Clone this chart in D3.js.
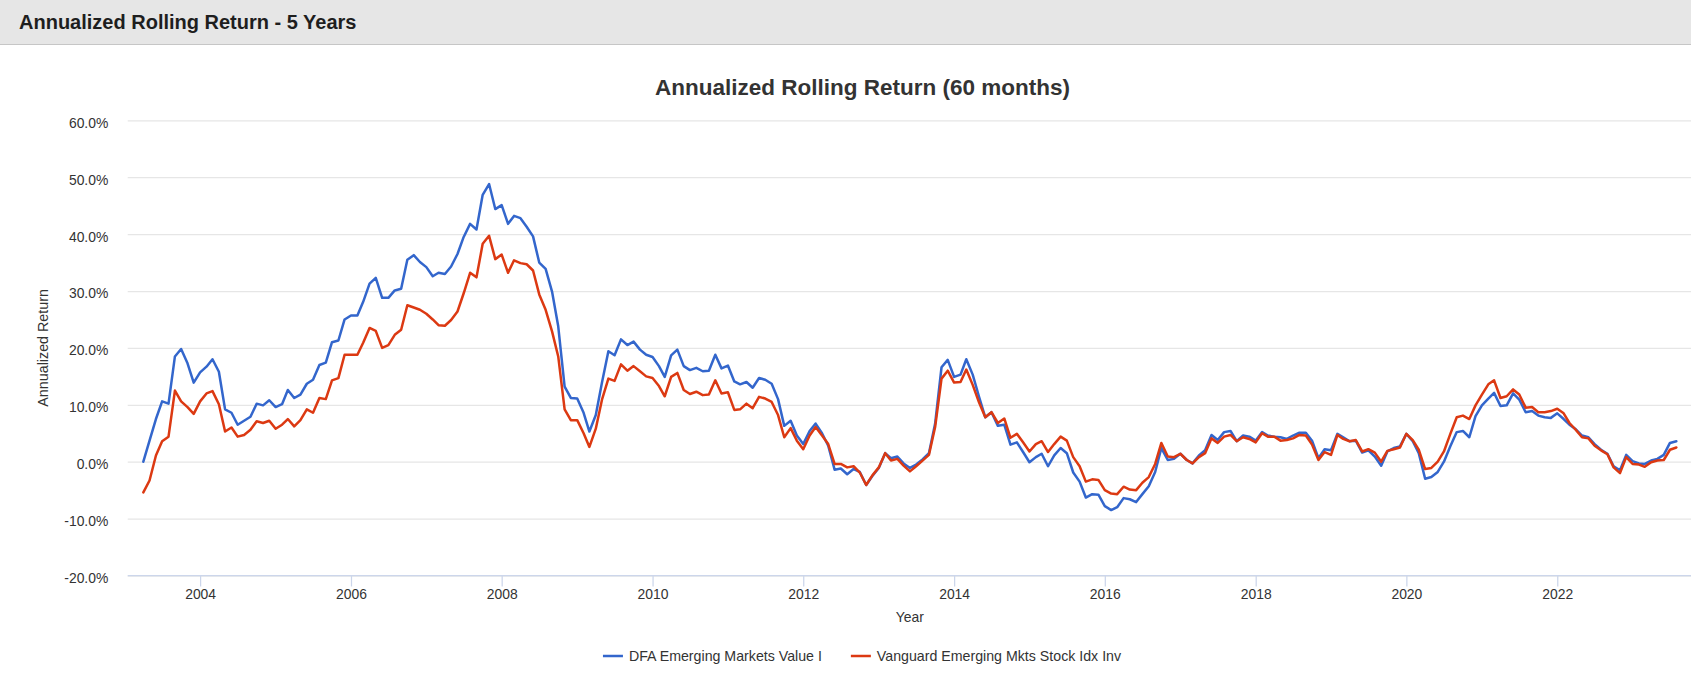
<!DOCTYPE html>
<html>
<head>
<meta charset="utf-8">
<script src="https://cdn.jsdelivr.net/npm/d3@7"></script>
<style>
  body { margin: 0; background: #fff; overflow: hidden; }
  text { font-family: "Liberation Sans", Arial, Helvetica, sans-serif; }
</style>
</head>
<body>
<svg id="chart" width="1691" height="673"></svg>
<script>
// Monthly 60-month annualized rolling returns (%), first point Apr 2003
const seriesNames = ['DFA Emerging Markets Value I', 'Vanguard Emerging Mkts Stock Idx Inv'];
const firstYear = 2003, firstMonth = 3;

const dfaValues = [
  0.0, 3.7, 7.5, 10.6, 10.2, 18.5, 19.8, 17.3, 13.9, 15.7, 16.7, 18.0,
  15.8, 9.2, 8.6, 6.5, 7.2, 7.9, 10.2, 9.9, 10.8, 9.6, 10.1, 12.6,
  11.2, 11.8, 13.7, 14.4, 17.0, 17.4, 21.0, 21.3, 25.0, 25.7, 25.7, 28.1,
  31.3, 32.3, 28.8, 28.8, 30.1, 30.4, 35.5, 36.3, 35.1, 34.2, 32.6, 33.2,
  33.0, 34.3, 36.5, 39.5, 41.8, 40.8, 46.9, 48.8, 44.4, 45.1, 41.8, 43.2,
  42.8, 41.3, 39.6, 35.0, 33.9, 29.9, 23.8, 13.2, 11.2, 11.1, 8.6, 5.3,
  8.2, 13.9, 19.4, 18.7, 21.5, 20.5, 21.1, 19.7, 18.8, 18.4, 16.8, 14.9,
  18.7, 19.7, 16.8, 16.1, 16.5, 15.9, 16.0, 18.8, 16.4, 16.9, 14.1, 13.6,
  14.0, 13.0, 14.7, 14.4, 13.7, 11.0, 6.3, 7.2, 4.6, 3.1, 5.4, 6.7,
  5.0, 2.8, -1.4, -1.2, -2.2, -1.3, -1.8, -4.1, -2.5, -1.1, 1.5, 0.6,
  0.9, -0.3, -1.1, -0.5, 0.4, 1.5, 6.7, 16.6, 17.9, 14.9, 15.3, 18.0,
  15.3, 11.5, 7.8, 8.7, 6.3, 6.5, 3.0, 3.4, 1.7, -0.1, 0.8, 1.4,
  -0.8, 1.1, 2.4, 1.5, -1.9, -3.5, -6.3, -5.7, -5.8, -7.8, -8.5, -8.0,
  -6.4, -6.6, -7.1, -5.7, -4.3, -1.8, 2.4, 0.3, 0.5, 1.4, 0.3, -0.3,
  1.1, 2.0, 4.7, 3.8, 5.2, 5.4, 3.6, 4.6, 4.4, 3.7, 5.2, 4.6,
  4.4, 4.3, 4.0, 4.6, 5.1, 5.1, 3.7, 0.6, 2.2, 2.0, 4.9, 4.3,
  3.6, 3.7, 1.6, 2.0, 0.9, -0.7, 1.8, 2.4, 2.7, 4.9, 3.6, 1.5,
  -3.0, -2.7, -1.8, 0.0, 2.7, 5.2, 5.4, 4.3, 8.0, 9.9, 11.1, 12.1,
  9.8, 9.9, 12.0, 10.9, 8.7, 8.9, 8.1, 7.8, 7.7, 8.5, 7.5, 6.5,
  5.7, 4.6, 4.3, 3.1, 2.1, 1.4, -0.8, -1.5, 1.2, 0.1, -0.3, -0.4,
  0.2, 0.5, 1.2, 3.3, 3.6
];

const vanguardValues = [
  -5.4, -3.3, 1.1, 3.6, 4.4, 12.5, 10.6, 9.6, 8.4, 10.6, 12.0, 12.4,
  10.1, 5.3, 6.0, 4.4, 4.7, 5.6, 7.1, 6.8, 7.2, 5.8, 6.5, 7.5,
  6.2, 7.3, 9.2, 8.6, 11.2, 11.0, 14.3, 14.7, 18.8, 18.8, 18.8, 20.9,
  23.5, 23.0, 20.0, 20.5, 22.3, 23.2, 27.5, 27.1, 26.7, 26.0, 25.0, 24.0,
  23.9, 24.9, 26.4, 29.6, 33.2, 32.4, 38.3, 39.7, 35.6, 36.4, 33.2, 35.4,
  34.9, 34.7, 33.6, 29.4, 26.7, 22.9, 18.5, 9.2, 7.3, 7.3, 5.0, 2.6,
  5.8, 10.9, 14.6, 14.2, 17.1, 16.0, 16.8, 15.9, 15.0, 14.7, 13.3, 11.5,
  14.9, 15.6, 12.6, 11.9, 12.3, 11.7, 11.8, 14.3, 12.0, 12.2, 9.1, 9.2,
  10.2, 9.4, 11.4, 11.1, 10.5, 8.2, 4.3, 5.9, 3.7, 2.2, 4.6, 6.1,
  4.6, 3.1, -0.4, -0.4, -1.0, -0.8, -1.9, -4.1, -2.4, -1.0, 1.5, 0.2,
  0.5, -0.7, -1.7, -0.8, 0.2, 1.2, 6.1, 14.6, 16.0, 13.9, 14.0, 16.2,
  13.5, 10.5, 7.8, 8.7, 6.8, 7.6, 4.2, 4.9, 3.4, 1.8, 3.1, 3.6,
  1.7, 3.1, 4.4, 3.7, 0.8, -0.8, -3.5, -3.1, -3.2, -5.0, -5.6, -5.7,
  -4.4, -4.9, -5.0, -3.7, -2.7, -0.4, 3.3, 0.9, 0.8, 1.4, 0.3, -0.3,
  0.8, 1.5, 4.1, 3.3, 4.4, 4.7, 3.6, 4.3, 4.0, 3.4, 5.0, 4.4,
  4.4, 3.7, 3.8, 4.1, 4.7, 4.6, 3.0, 0.3, 1.7, 1.2, 4.7, 4.0,
  3.6, 3.8, 1.8, 2.2, 1.6, 0.0, 1.9, 2.2, 2.5, 4.9, 3.8, 2.1,
  -1.3, -1.1, 0.0, 1.8, 4.9, 7.8, 8.1, 7.5, 9.9, 11.8, 13.6, 14.3,
  11.2, 11.5, 12.7, 11.8, 9.5, 9.6, 8.7, 8.7, 8.9, 9.3, 8.5, 6.8,
  5.6, 4.3, 4.1, 2.8, 2.0, 1.3, -1.0, -2.0, 0.8, -0.4, -0.5, -0.9,
  -0.1, 0.2, 0.3, 2.1, 2.5
];

const yTicks = [-20, -10, 0, 10, 20, 30, 40, 50, 60];
const xTickYears = [2004, 2006, 2008, 2010, 2012, 2014, 2016, 2018, 2020, 2022];

const colors = ['#3366cc', '#dc3912'];

const months = dfaValues.map((d, i) => new Date(firstYear, firstMonth + i, 1));

const svg = d3.select('#chart');

// header bar
svg.append('rect')
  .attr('x', 0).attr('y', 0)
  .attr('width', 1691).attr('height', 44)
  .attr('fill', '#e6e6e6');
svg.append('line')
  .attr('x1', 0).attr('x2', 1691)
  .attr('y1', 44.5).attr('y2', 44.5)
  .attr('stroke', '#c6c6c6');
svg.append('text')
  .attr('x', 19).attr('y', 29)
  .attr('font-size', '20px')
  .attr('font-weight', 'bold')
  .attr('fill', '#1e1e1e')
  .text('Annualized Rolling Return - 5 Years');

// plot area
const plot = { left: 127.7, right: 1692, top: 120.3, bottom: 575.5 };
const pad = (plot.right - plot.left) * 0.01;

const x = d3.scaleTime()
  .domain([months[0], months[months.length - 1]])
  .range([plot.left + pad, plot.right - pad]);

const y = d3.scaleLinear()
  .domain([-20, 60])
  .range([plot.bottom, plot.top]);

svg.append('text')
  .attr('x', 862.5).attr('y', 95)
  .attr('text-anchor', 'middle')
  .attr('font-size', '22.5px')
  .attr('font-weight', 'bold')
  .attr('fill', '#333333')
  .text('Annualized Rolling Return (60 months)');

// y axis + gridlines
const yAxis = svg.append('g')
  .attr('transform', `translate(${plot.left},0)`)
  .call(d3.axisLeft(y)
    .tickValues(yTicks)
    .tickSize(-(plot.right - plot.left))
    .tickPadding(19.4)
    .tickFormat(d => d.toFixed(1) + '%'));
yAxis.select('.domain').remove();
yAxis.selectAll('.tick line')
  .attr('stroke', '#e6e6e6')
  .attr('stroke-width', 1.25);
yAxis.selectAll('.tick text')
  .attr('dy', '0.5em')
  .attr('font-size', '13.9px')
  .attr('fill', '#333333');

// x axis
const xAxis = svg.append('g')
  .attr('transform', `translate(0,${plot.bottom})`)
  .call(d3.axisBottom(x)
    .tickValues(xTickYears.map(yr => new Date(yr, 0, 1)))
    .tickSize(11)
    .tickPadding(2.6)
    .tickFormat(d3.timeFormat('%Y')));
xAxis.select('.domain')
  .attr('d', `M${plot.left},0H${plot.right}`)
  .attr('stroke', '#ccd6eb')
  .attr('stroke-width', 1.25);
xAxis.selectAll('.tick line')
  .attr('stroke', '#ccd6eb')
  .attr('stroke-width', 1.25);
xAxis.selectAll('.tick text')
  .attr('font-size', '13.9px')
  .attr('fill', '#333333');

// axis titles
svg.append('text')
  .attr('transform', `translate(48,${(plot.top + plot.bottom) / 2}) rotate(-90)`)
  .attr('text-anchor', 'middle')
  .attr('font-size', '14.3px')
  .attr('fill', '#333333')
  .text('Annualized Return');

svg.append('text')
  .attr('x', (plot.left + plot.right) / 2).attr('y', 621.7)
  .attr('text-anchor', 'middle')
  .attr('font-size', '13.9px')
  .attr('fill', '#333333')
  .text('Year');

// lines
const line = d3.line()
  .x((d, i) => x(months[i]))
  .y(d => y(d));

[dfaValues, vanguardValues].forEach((vals, k) => {
  svg.append('path')
    .datum(vals)
    .attr('fill', 'none')
    .attr('stroke', colors[k])
    .attr('stroke-width', 2.5)
    .attr('stroke-linejoin', 'round')
    .attr('stroke-linecap', 'round')
    .attr('d', line);
});

// legend
const legend = svg.append('g');
const items = legend.selectAll('g')
  .data(seriesNames)
  .enter().append('g');
items.append('line')
  .attr('x1', 0).attr('x2', 20)
  .attr('y1', 0).attr('y2', 0)
  .attr('stroke', (d, i) => colors[i])
  .attr('stroke-width', 2.5);
items.append('text')
  .attr('x', 26).attr('y', 5)
  .attr('font-size', '14.2px')
  .attr('fill', '#333333')
  .text(d => d);

const widths = [];
items.each(function() { widths.push(26 + this.querySelector('text').getComputedTextLength()); });
const gap = 29;
const total = d3.sum(widths) + gap * (widths.length - 1);
let cx = 862 - total / 2;
items.attr('transform', (d, i) => {
  const t = `translate(${cx},656)`;
  cx += widths[i] + gap;
  return t;
});
</script>
</body>
</html>
